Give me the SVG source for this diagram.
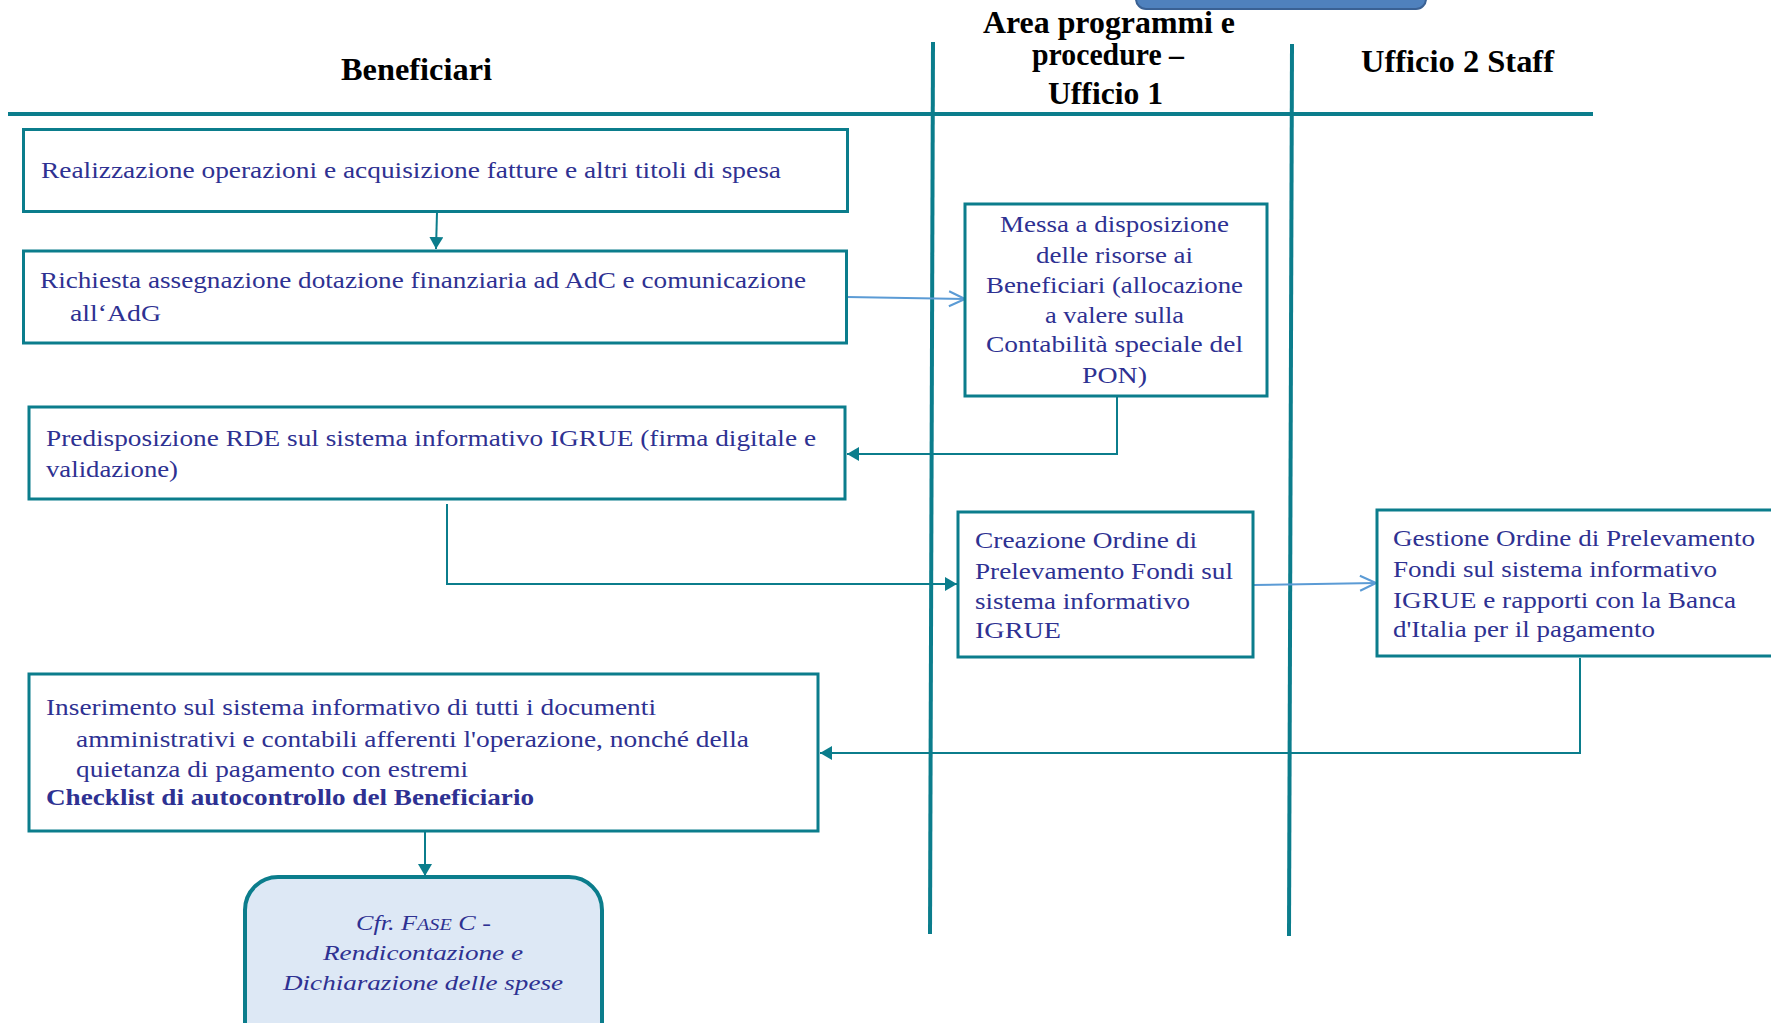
<svg xmlns="http://www.w3.org/2000/svg" width="1771" height="1023" viewBox="0 0 1771 1023">
  <style>
    .box { fill: #ffffff; stroke: #0b7d8c; stroke-width: 3; }
    .term { fill: #dde8f5; stroke: #0b7d8c; stroke-width: 4; }
    .lane { stroke: #0b7d8c; stroke-width: 4; fill: none; }
    .flow { stroke: #0b7d8c; stroke-width: 2; fill: none; }
    .flow-lt { stroke: #5b9bd5; stroke-width: 2; fill: none; }
    .hdr { font-family: "Liberation Serif", "Times New Roman", serif; font-weight: bold; font-size: 31px; fill: #000000; }
    .txt { font-family: "Liberation Serif", "Times New Roman", serif; font-size: 24px; fill: #2e3192; }
    .bold { font-weight: bold; }
    .ital { font-family: "Liberation Serif", "Times New Roman", serif; font-style: italic; font-size: 22px; fill: #2e3192; }
  </style>
  <defs>
    <marker id="solid" viewBox="0 0 12 14" refX="12" refY="7" markerWidth="12" markerHeight="14" markerUnits="userSpaceOnUse" orient="auto">
      <path d="M0,0 L12,7 L0,14 z" fill="#0b7d8c"/>
    </marker>
    <marker id="open" viewBox="-2 -2 20 19" refX="16" refY="7.5" markerWidth="20" markerHeight="19" markerUnits="userSpaceOnUse" orient="auto">
      <path d="M0,0 L16,7.5 L0,15" fill="none" stroke="#5b9bd5" stroke-width="2"/>
    </marker>
  </defs>

  <rect width="1771" height="1023" fill="#ffffff"/>

  <!-- tab at the top edge -->
  <rect x="1136" y="-30" width="290" height="39" rx="10" fill="#4f81bd" stroke="#3a6194" stroke-width="2"/>

  <!-- swimlane frame -->
  <g id="lanes">
    <line class="lane" x1="8" y1="114" x2="1593" y2="114"/>
    <line class="lane" x1="933" y1="42" x2="930" y2="934"/>
    <line class="lane" x1="1292" y1="44" x2="1289" y2="936"/>
    <text class="hdr" x="341" y="80" textLength="151" lengthAdjust="spacingAndGlyphs">Beneficiari</text>
    <text class="hdr" x="983" y="33" textLength="252" lengthAdjust="spacingAndGlyphs">Area programmi e</text>
    <text class="hdr" x="1032" y="65" textLength="152" lengthAdjust="spacingAndGlyphs">procedure –</text>
    <text class="hdr" x="1048" y="104" textLength="115" lengthAdjust="spacingAndGlyphs">Ufficio 1</text>
    <text class="hdr" x="1361" y="72" textLength="193" lengthAdjust="spacingAndGlyphs">Ufficio 2 Staff</text>
  </g>

  <!-- connectors -->
  <g id="connectors">
    <line class="flow" x1="437" y1="212" x2="436" y2="249" marker-end="url(#solid)"/>
    <line class="flow-lt" x1="847" y1="297" x2="965" y2="299" marker-end="url(#open)"/>
    <polyline class="flow" points="1117,397 1117,454 847,454" marker-end="url(#solid)"/>
    <polyline class="flow" points="447,504 447,584 957,584" marker-end="url(#solid)"/>
    <line class="flow-lt" x1="1254" y1="585" x2="1376" y2="583" marker-end="url(#open)"/>
    <polyline class="flow" points="1580,658 1580,753 820,753" marker-end="url(#solid)"/>
    <line class="flow" x1="425" y1="832" x2="425" y2="876" marker-end="url(#solid)"/>
  </g>

  <g id="realizzazione">
    <rect class="box" x="23.5" y="129.5" width="824" height="82"/>
    <text class="txt" x="41" y="178" textLength="740" lengthAdjust="spacingAndGlyphs">Realizzazione  operazioni  e acquisizione  fatture e altri titoli di spesa</text>
  </g>

  <g id="richiesta">
    <rect class="box" x="23.5" y="251" width="823" height="92"/>
    <text class="txt" x="40" y="288" textLength="766" lengthAdjust="spacingAndGlyphs">Richiesta assegnazione dotazione finanziaria  ad AdC e comunicazione</text>
    <text class="txt" x="70" y="321" textLength="91" lengthAdjust="spacingAndGlyphs">all‘AdG</text>
  </g>

  <g id="messa-disposizione">
    <rect class="box" x="965" y="204" width="302" height="192"/>
    <text class="txt" x="1000" y="232" textLength="229" lengthAdjust="spacingAndGlyphs">Messa a disposizione</text>
    <text class="txt" x="1036" y="263" textLength="157" lengthAdjust="spacingAndGlyphs">delle risorse  ai</text>
    <text class="txt" x="986" y="293" textLength="257" lengthAdjust="spacingAndGlyphs">Beneficiari (allocazione</text>
    <text class="txt" x="1045" y="323" textLength="139" lengthAdjust="spacingAndGlyphs">a valere  sulla</text>
    <text class="txt" x="986" y="352" textLength="257" lengthAdjust="spacingAndGlyphs">Contabilità speciale  del</text>
    <text class="txt" x="1082" y="383" textLength="65" lengthAdjust="spacingAndGlyphs">PON)</text>
  </g>

  <g id="predisposizione">
    <rect class="box" x="29" y="407" width="816" height="92"/>
    <text class="txt" x="46" y="446" textLength="770" lengthAdjust="spacingAndGlyphs">Predisposizione RDE sul sistema informativo  IGRUE (firma digitale e</text>
    <text class="txt" x="46" y="477" textLength="132" lengthAdjust="spacingAndGlyphs">validazione)</text>
  </g>

  <g id="creazione-ordine">
    <rect class="box" x="958" y="512" width="295" height="145"/>
    <text class="txt" x="975" y="548" textLength="222" lengthAdjust="spacingAndGlyphs">Creazione Ordine di</text>
    <text class="txt" x="975" y="579" textLength="258" lengthAdjust="spacingAndGlyphs">Prelevamento Fondi sul</text>
    <text class="txt" x="975" y="609" textLength="215" lengthAdjust="spacingAndGlyphs">sistema informativo</text>
    <text class="txt" x="975" y="638" textLength="86" lengthAdjust="spacingAndGlyphs">IGRUE</text>
  </g>

  <g id="gestione-ordine">
    <rect class="box" x="1377" y="510" width="400" height="146"/>
    <text class="txt" x="1393" y="546" textLength="362" lengthAdjust="spacingAndGlyphs">Gestione Ordine di Prelevamento</text>
    <text class="txt" x="1393" y="577" textLength="324" lengthAdjust="spacingAndGlyphs">Fondi sul sistema  informativo</text>
    <text class="txt" x="1393" y="608" textLength="343" lengthAdjust="spacingAndGlyphs">IGRUE e rapporti con la  Banca</text>
    <text class="txt" x="1393" y="637" textLength="262" lengthAdjust="spacingAndGlyphs">d'Italia per il pagamento</text>
  </g>

  <g id="inserimento">
    <rect class="box" x="29" y="674" width="789" height="157"/>
    <text class="txt" x="46" y="715" textLength="610" lengthAdjust="spacingAndGlyphs">Inserimento sul sistema informativo di tutti i documenti</text>
    <text class="txt" x="76" y="747" textLength="673" lengthAdjust="spacingAndGlyphs">amministrativi  e contabili afferenti l'operazione, nonché della</text>
    <text class="txt" x="76" y="777" textLength="392" lengthAdjust="spacingAndGlyphs">quietanza di pagamento con estremi</text>
    <text class="txt bold" x="46" y="805" textLength="488" lengthAdjust="spacingAndGlyphs">Checklist di autocontrollo  del Beneficiario</text>
  </g>

  <g id="fase-c">
    <rect class="term" x="245" y="877" width="357" height="200" rx="33"/>
    <text class="ital" x="356" y="930" textLength="135" lengthAdjust="spacingAndGlyphs">Cfr. F<tspan font-size="17">ASE</tspan> C -</text>
    <text class="ital" x="323" y="960" textLength="200" lengthAdjust="spacingAndGlyphs">Rendicontazione  e</text>
    <text class="ital" x="283" y="990" textLength="280" lengthAdjust="spacingAndGlyphs">Dichiarazione delle spese</text>
  </g>
</svg>
